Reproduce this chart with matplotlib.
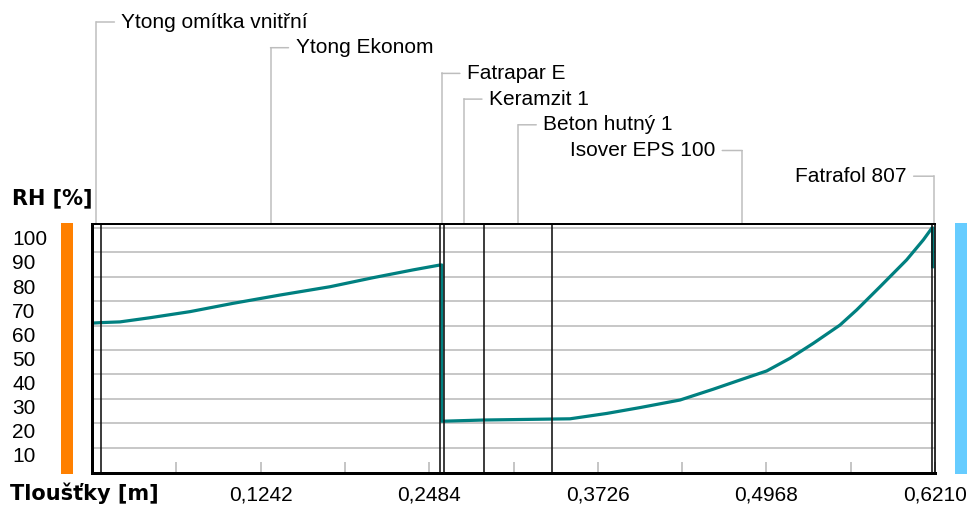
import numpy as np
import matplotlib.pyplot as plt
from matplotlib.patches import Rectangle
from matplotlib.transforms import ScaledTranslation, blended_transform_factory

plt.rcParams['font.family'] = ['Liberation Sans', 'DejaVu Sans']

# layers of the wall (name, thickness in m)
layers = ["Ytong omítka vnitřní", "Ytong Ekonom", "Fatrapar E", "Keramzit 1",
          "Beton hutný 1", "Isover EPS 100", "Fatrafol 807"]
thickness = [0.0065, 0.25, 0.0025, 0.03, 0.05, 0.28, 0.002]

# relative humidity through the wall
rh_x = [0.0, 0.0065, 0.0206, 0.0427, 0.0722, 0.1039, 0.1385, 0.1753, 0.207,
        0.2365, 0.2563, 0.2577, 0.2577, 0.2883, 0.3391, 0.3521, 0.3792, 0.4037,
        0.4332, 0.4575, 0.4774, 0.4970, 0.5142, 0.5313, 0.5510, 0.5633, 0.5805,
        0.6001, 0.6124, 0.6188, 0.6193, 0.6193]
rh_y = [61.0, 61.2, 61.5, 63.2, 65.7, 69.1, 72.5, 75.9, 79.6,
        82.8, 84.8, 84.8, 20.8, 21.3, 21.7, 21.8, 24.0, 26.4,
        29.5, 33.9, 37.7, 41.4, 46.6, 52.7, 60.2, 66.4, 75.9,
        86.9, 95.1, 100.0, 100.0, 84.1]

rh_ticks = [10, 20, 30, 40, 50, 60, 70, 80, 90, 100]
x_ticks = [0.1242, 0.2484, 0.3726, 0.4968, 0.6210]
x_labels = ["0,1242", "0,2484", "0,3726", "0,4968", "0,6210"]
x_minor = [0.0621, 0.1863, 0.3105, 0.4347, 0.5589]

W, H = 971, 505
fig = plt.figure(figsize=(W / 100, H / 100), dpi=100)
ax = fig.add_axes([92 / W, 1 - 473 / H, 843 / W, 249 / H])
ax.set_xlim(0, 0.621)
ax.set_ylim(-0.4, 101.6)

px = lambda n: n * 0.72  # pixels -> points

# horizontal grid
ax.set_yticks(rh_ticks)
ax.yaxis.grid(True, color='#c8c8c8', lw=px(2))
ax.set_axisbelow(True)

# layer boundaries
bounds = np.cumsum(thickness)
for b in bounds[:-1]:
    ax.axvline(b, color='#111111', lw=px(1.6), zorder=3)

# the RH curve
ax.plot(rh_x, rh_y, color='#008080', lw=px(3.2), zorder=2)

# frame
for side, w in [('left', 3), ('bottom', 3), ('top', 2), ('right', 1.6)]:
    ax.spines[side].set_linewidth(px(w))
    ax.spines[side].set_color('black')
    ax.spines[side].set_zorder(4)

# y tick labels, left aligned at the far left
ax.set_yticklabels([str(v) for v in rh_ticks])
ax.tick_params(axis='y', length=0, pad=px(80), labelsize=15)
for lab, v in zip(ax.get_yticklabels(), rh_ticks):
    lab.set_horizontalalignment('left')
    off = 7 + 3 * (v - 10) / 90
    lab.set_transform(lab.get_transform() + ScaledTranslation(0, -off / 100, fig.dpi_scale_trans))

# x ticks
ax.set_xticks(x_ticks)
ax.set_xticklabels(x_labels)
ax.set_xticks(x_minor, minor=True)
ax.tick_params(axis='x', which='both', direction='in', length=8, width=px(1.5),
               color='#b4b4b4', labelsize=15, pad=9)

# side colour bars (inside / outside)
ax.add_patch(Rectangle((-31 / 843, -0.004), 11.5 / 843, 1.008, transform=ax.transAxes,
                       color='#ff8000', clip_on=False, lw=0))
ax.add_patch(Rectangle((863 / 843, -0.004), 12 / 843, 1.008, transform=ax.transAxes,
                       color='#66ccff', clip_on=False, lw=0))

# axis titles
bold = dict(fontsize=15, fontweight='bold', family='DejaVu Sans', va='center', ha='left')
fig.text(12 / W, 1 - 198 / H, "RH [%]", **bold)
fig.text(10 / W, 1 - 493 / H, "Tloušťky [m]", **bold)

# layer labels with leader lines
tr = blended_transform_factory(ax.transData, ax.transAxes)
centers = bounds - np.array(thickness) / 2
for i, (name, cx) in enumerate(zip(layers, centers)):
    yl = 1 + (202 - 25.7 * i) / 249
    right = i >= 5
    ax.plot([cx, cx], [1, yl], transform=tr, color='#bdbdbd', lw=px(1.5), clip_on=False, zorder=1)
    d = -20 if right else 18
    ax.annotate("", xy=(cx, yl), xycoords=tr, xytext=(px(d), 0), textcoords='offset points',
                arrowprops=dict(arrowstyle='-', color='#bdbdbd', lw=px(1.5),
                                shrinkA=0, shrinkB=0), annotation_clip=False)
    ax.annotate(name, xy=(cx, yl), xycoords=tr,
                xytext=(px(-27 if right else 25), 0), textcoords='offset points',
                ha='right' if right else 'left', va='center', fontsize=15,
                annotation_clip=False)

fig.savefig("out.png", dpi=100)
